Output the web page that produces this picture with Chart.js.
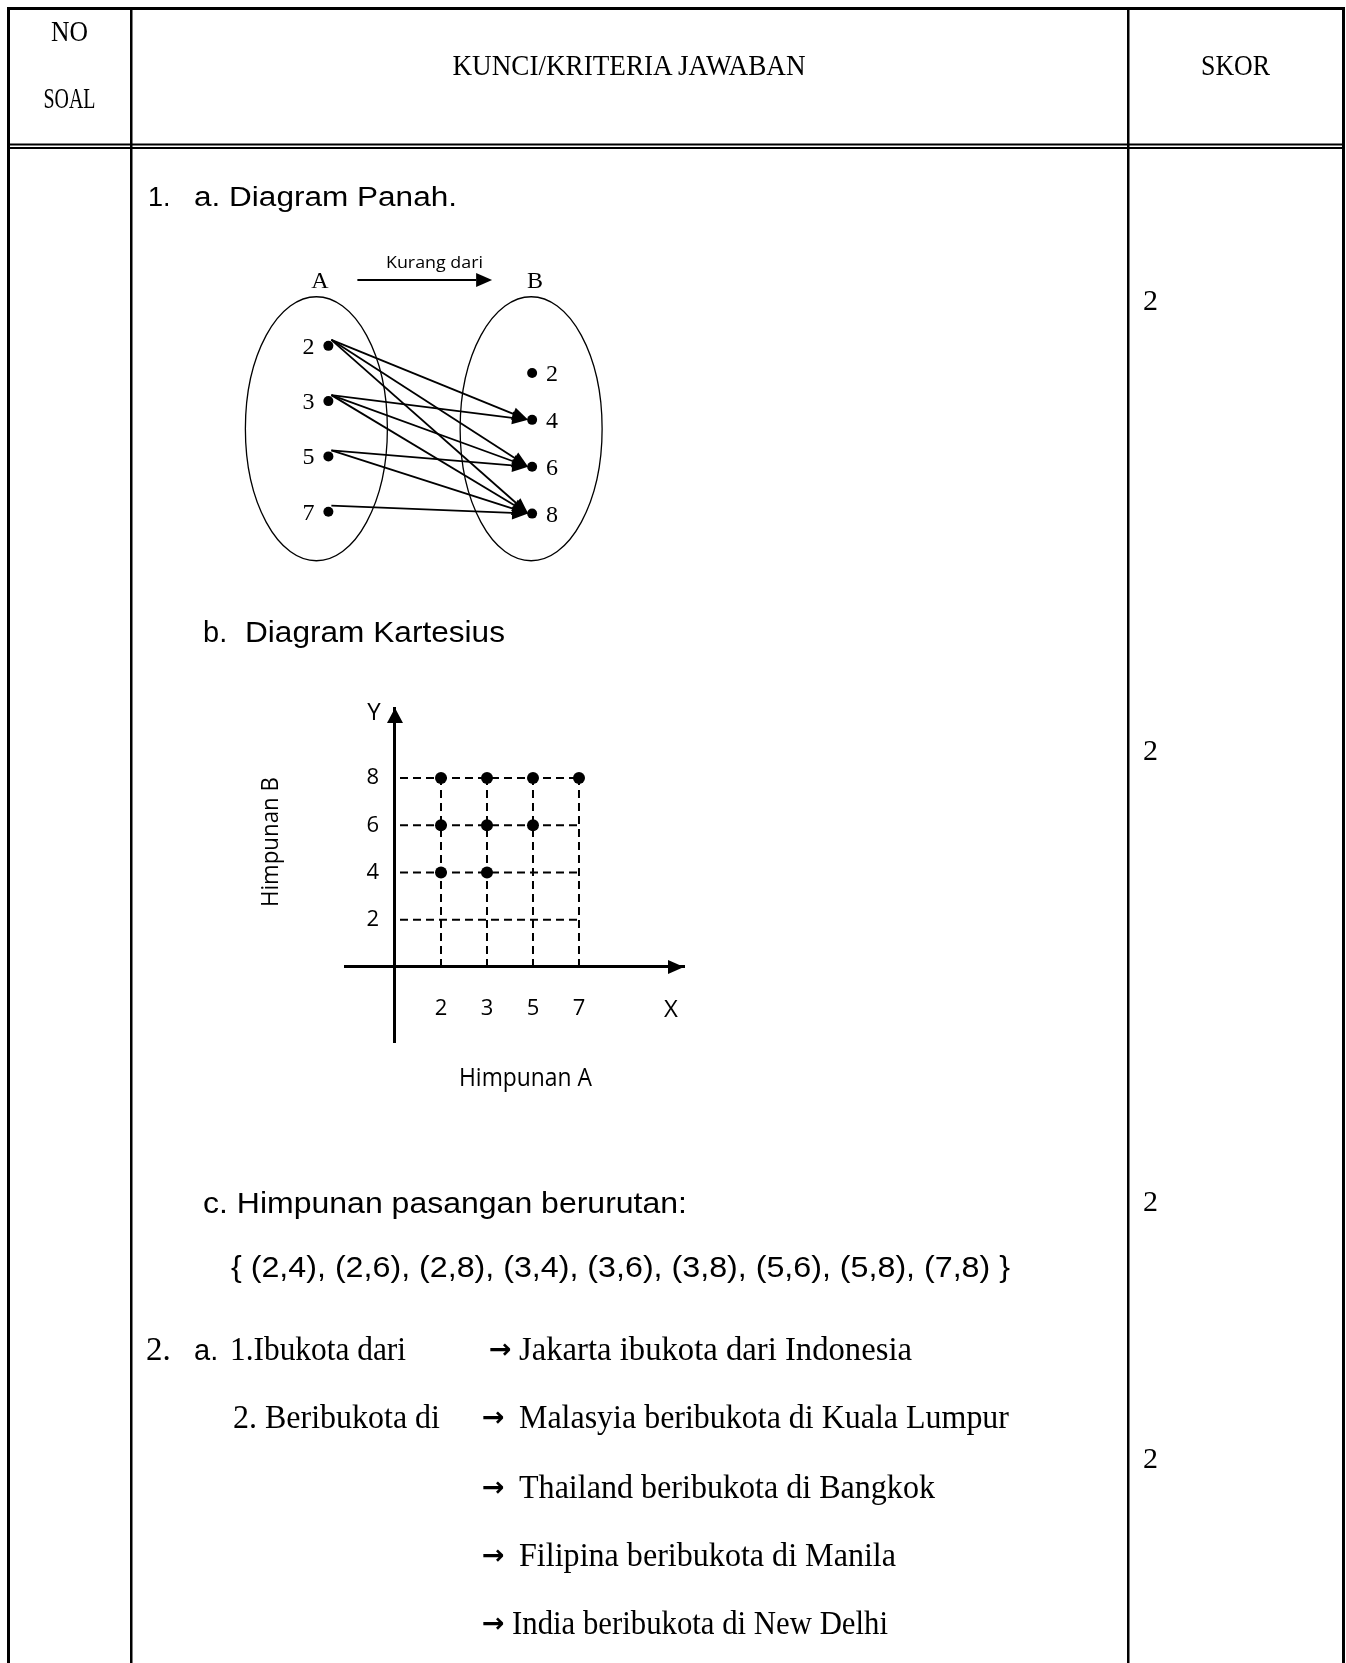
<!DOCTYPE html>
<html>
<head>
<meta charset="utf-8">
<script src="https://cdn.jsdelivr.net/npm/chart.js@4/dist/chart.umd.min.js"></script>
<style>
html,body{margin:0;padding:0;background:#fff;}
#page{position:relative;width:1346px;height:1663px;overflow:hidden;background:#fff;}
canvas{position:absolute;}
#arrowChart{left:222px;top:240px;width:397px;height:330px;}
#cartChart{left:315px;top:678px;width:399px;height:394px;}
svg{position:absolute;left:0;top:0;}
.serif{font-family:"Liberation Serif","Times New Roman",serif;}
.sans{font-family:"Liberation Sans",Arial,sans-serif;}
.open{font-family:"Open Sans","Liberation Sans",sans-serif;}
.arr{font-family:"DejaVu Sans",sans-serif;font-weight:bold;}
</style>
</head>
<body>
<div id="page">
<canvas id="arrowChart" width="397" height="330"></canvas>
<canvas id="cartChart" width="399" height="394"></canvas>
<svg id="sheet" width="1346" height="1663" viewBox="0 0 1346 1663" xmlns="http://www.w3.org/2000/svg">
  <!-- table lines -->
  <g fill="#000">
    <rect x="7" y="7" width="1338" height="3"/>
    <rect x="7" y="7" width="3" height="1656"/>
    <rect x="1342" y="7" width="3" height="1656"/>
    <rect x="130" y="7" width="2.5" height="1656"/>
    <rect x="1127" y="7" width="2.5" height="1656"/>
    <rect x="7" y="143.5" width="1338" height="2"/>
    <rect x="7" y="147" width="1338" height="2"/>
  </g>
  <!-- header -->
  <g class="serif" font-size="30" fill="#000">
    <text x="69.5" y="41" text-anchor="middle" textLength="37" lengthAdjust="spacingAndGlyphs">NO</text>
    <text x="69.5" y="108" text-anchor="middle" textLength="52" lengthAdjust="spacingAndGlyphs">SOAL</text>
    <text x="629" y="75" text-anchor="middle" textLength="353" lengthAdjust="spacingAndGlyphs">KUNCI/KRITERIA JAWABAN</text>
    <text x="1235.5" y="75" text-anchor="middle" textLength="69" lengthAdjust="spacingAndGlyphs">SKOR</text>
  </g>
  <!-- skor values -->
  <g class="serif" font-size="30" fill="#000">
    <text x="1143" y="310">2</text>
    <text x="1143" y="760">2</text>
    <text x="1143" y="1211">2</text>
    <text x="1143" y="1468">2</text>
  </g>
  <!-- section 1 headings -->
  <g class="sans" fill="#000">
    <text x="148" y="206" font-size="27">1.</text>
    <text x="194" y="206" font-size="27" textLength="263" lengthAdjust="spacingAndGlyphs">a. Diagram Panah.</text>
    <text x="203" y="642" font-size="29">b.</text>
    <text x="245" y="642" font-size="29" textLength="260" lengthAdjust="spacingAndGlyphs">Diagram Kartesius</text>
    <text x="203" y="1213" font-size="29" textLength="484" lengthAdjust="spacingAndGlyphs">c. Himpunan pasangan berurutan:</text>
    <text id="pairText" x="231" y="1277" font-size="29" textLength="779" lengthAdjust="spacingAndGlyphs"></text>
  </g>
  <!-- arrow diagram texts -->
  <g fill="#000">
    <text class="serif" x="320" y="288" font-size="24" text-anchor="middle">A</text>
    <text class="serif" x="535" y="288" font-size="24" text-anchor="middle">B</text>
    <text id="relText" class="open" x="386" y="268" font-size="17" textLength="97" lengthAdjust="spacingAndGlyphs"></text>
  </g>
  <!-- cartesian texts -->
  <g class="open" fill="#000">
    <text x="374" y="720" font-size="24" text-anchor="middle">Y</text>
    <text x="671" y="1017" font-size="24" text-anchor="middle">X</text>
    <text x="278" y="842" font-size="23" text-anchor="middle" transform="rotate(-90 278 842)" textLength="130" lengthAdjust="spacingAndGlyphs">Himpunan B</text>
    <text x="459" y="1086" font-size="25" textLength="133" lengthAdjust="spacingAndGlyphs">Himpunan A</text>
  </g>
  <!-- section 2 -->
  <g class="serif" font-size="33" fill="#000">
    <text x="146" y="1360">2.</text>
    <text class="sans" x="194" y="1360" font-size="29">a.</text>
    <text x="230" y="1360" textLength="176" lengthAdjust="spacingAndGlyphs">1.Ibukota dari</text>
    <text class="arr" x="489" y="1358" font-size="27">→</text>
    <text x="519" y="1360" textLength="393" lengthAdjust="spacingAndGlyphs">Jakarta ibukota dari Indonesia</text>

    <text x="233" y="1428" textLength="207" lengthAdjust="spacingAndGlyphs">2. Beribukota di</text>
    <text class="arr" x="482" y="1426" font-size="27">→</text>
    <text x="519" y="1428" textLength="490" lengthAdjust="spacingAndGlyphs">Malasyia beribukota di Kuala Lumpur</text>

    <text class="arr" x="482" y="1496" font-size="27">→</text>
    <text x="519" y="1498" textLength="416" lengthAdjust="spacingAndGlyphs">Thailand beribukota di Bangkok</text>

    <text class="arr" x="482" y="1564" font-size="27">→</text>
    <text x="519" y="1566" textLength="377" lengthAdjust="spacingAndGlyphs">Filipina beribukota di Manila</text>

    <text class="arr" x="482" y="1632" font-size="27">→</text>
    <text x="512" y="1634" textLength="376" lengthAdjust="spacingAndGlyphs">India beribukota di New Delhi</text>
  </g>
</svg>
</div>
<script>
// ---------- data ----------
const setA = [2, 3, 5, 7];              // Himpunan A
const setB = [2, 4, 6, 8];              // Himpunan B
const pairA = [2, 2, 2, 3, 3, 3, 5, 5, 7]; // relation "kurang dari": first elements
const pairB = [4, 6, 8, 4, 6, 8, 6, 8, 8]; // relation "kurang dari": second elements
const relationName = 'Kurang dari';

// text built from data
document.getElementById('pairText').textContent =
  '{ ' + pairA.map((a, k) => '(' + a + ',' + pairB[k] + ')').join(', ') + ' }';
document.getElementById('relText').textContent = relationName;

function drawArrow(ctx, x1, y1, x2, y2, len, half) {
  const ang = Math.atan2(y2 - y1, x2 - x1);
  const bx = x2 - len * Math.cos(ang), by = y2 - len * Math.sin(ang);
  ctx.beginPath();
  ctx.moveTo(x1, y1);
  ctx.lineTo(bx, by);
  ctx.stroke();
  ctx.beginPath();
  ctx.moveTo(x2, y2);
  ctx.lineTo(bx + half * Math.sin(ang), by - half * Math.cos(ang));
  ctx.lineTo(bx - half * Math.sin(ang), by + half * Math.cos(ang));
  ctx.closePath();
  ctx.fill();
}

// ---------- arrow (panah) diagram ----------
const arrowPlugin = {
  id: 'arrowDiagram',
  beforeDatasetsDraw(chart) {
    const { ctx, chartArea, scales: { x, yA } } = chart;
    const cy = (yA.getPixelForValue(0) + yA.getPixelForValue(setA.length - 1)) / 2;
    ctx.save();
    ctx.strokeStyle = '#000';
    ctx.lineWidth = 1.3;
    ctx.beginPath();
    ctx.ellipse(x.getPixelForValue(0) - 12, cy, 71, 132, 0, 0, Math.PI * 2);
    ctx.stroke();
    ctx.beginPath();
    ctx.ellipse(x.getPixelForValue(1) - 1, cy, 71, 132, 0, 0, Math.PI * 2);
    ctx.stroke();
    // relation arrow on top
    ctx.fillStyle = '#000';
    ctx.lineWidth = 2;
    drawArrow(ctx, x.getPixelForValue(0) + 29, chartArea.top + 35, x.getPixelForValue(1) - 40, chartArea.top + 35, 16, 7);
    ctx.restore();
  },
  afterDatasetsDraw(chart) {
    const { ctx, scales: { x, yA, yB } } = chart;
    ctx.save();
    ctx.fillStyle = '#000';
    ctx.strokeStyle = '#000';
    ctx.lineWidth = 1.8;
    pairA.forEach((a, k) => {
      const i = setA.indexOf(a), j = setB.indexOf(pairB[k]);
      drawArrow(ctx,
        x.getPixelForValue(0) + 3, yA.getPixelForValue(i) - 6,
        x.getPixelForValue(1) - 4, yB.getPixelForValue(j),
        16, 6.5);
    });
    ctx.font = '24px "Liberation Serif", serif';
    ctx.textBaseline = 'alphabetic';
    ctx.textAlign = 'right';
    setA.forEach((a, i) => ctx.fillText(String(a), x.getPixelForValue(0) - 14, yA.getPixelForValue(i) + 8));
    ctx.textAlign = 'left';
    setB.forEach((b, j) => ctx.fillText(String(b), x.getPixelForValue(1) + 14, yB.getPixelForValue(j) + 8));
    ctx.restore();
  }
};

new Chart(document.getElementById('arrowChart'), {
  type: 'scatter',
  data: {
    datasets: [
      { data: setA.map((a, i) => ({ x: 0, y: i })), yAxisID: 'yA', pointRadius: 5, pointBackgroundColor: '#000', pointBorderWidth: 0 },
      { data: setB.map((b, j) => ({ x: 1, y: j })), yAxisID: 'yB', pointRadius: 5, pointBackgroundColor: '#000', pointBorderWidth: 0 }
    ]
  },
  options: {
    responsive: false, animation: false, events: [],
    layout: { padding: 0 },
    plugins: { legend: { display: false }, tooltip: { enabled: false } },
    scales: {
      x: { type: 'linear', display: false, min: -0.4976, max: 1.4019 },
      yA: { type: 'linear', display: false, reverse: true, min: -1.8246, max: 3.9649 },
      yB: { type: 'linear', display: false, reverse: true, min: -2.731, max: 4.0966 }
    }
  },
  plugins: [arrowPlugin]
});

// ---------- cartesian diagram ----------
const cartPlugin = {
  id: 'cartGrid',
  beforeDatasetsDraw(chart) {
    const { ctx, scales: { x, y } } = chart;
    const xEnd = x.getPixelForValue(setA.length);
    const yTop = y.getPixelForValue(setB[setB.length - 1]);
    const y0 = y.getPixelForValue(0);
    const x0 = x.getPixelForValue(0);
    ctx.save();
    ctx.strokeStyle = '#000';
    ctx.lineWidth = 2;
    ctx.setLineDash([8, 5]);
    setB.forEach(b => {
      const py = y.getPixelForValue(b);
      ctx.beginPath(); ctx.moveTo(x0 + 5, py); ctx.lineTo(xEnd, py); ctx.stroke();
    });
    setA.forEach((a, i) => {
      const px = x.getPixelForValue(i + 1);
      ctx.beginPath(); ctx.moveTo(px, y0); ctx.lineTo(px, yTop); ctx.stroke();
    });
    ctx.restore();
  },
  afterDraw(chart) {
    const { ctx, chartArea, scales: { x, y } } = chart;
    const x0 = x.getPixelForValue(0), y0 = y.getPixelForValue(0);
    ctx.save();
    ctx.fillStyle = '#000';
    ctx.beginPath();
    ctx.moveTo(x0, chartArea.top);
    ctx.lineTo(x0 - 8, chartArea.top + 15);
    ctx.lineTo(x0 + 8, chartArea.top + 15);
    ctx.closePath(); ctx.fill();
    ctx.beginPath();
    ctx.moveTo(chartArea.right, y0);
    ctx.lineTo(chartArea.right - 16, y0 - 7);
    ctx.lineTo(chartArea.right - 16, y0 + 7);
    ctx.closePath(); ctx.fill();
    // y tick labels, left of the y axis, from the scale's ticks
    ctx.font = '22px "Open Sans", sans-serif';
    ctx.textAlign = 'right';
    ctx.textBaseline = 'middle';
    y.ticks.forEach(t => ctx.fillText(String(t.value), x0 - 16, y.getPixelForValue(t.value)));
    ctx.restore();
  }
};

new Chart(document.getElementById('cartChart'), {
  type: 'scatter',
  data: {
    datasets: [{
      data: pairA.map((a, k) => ({ x: setA.indexOf(a) + 1, y: pairB[k] })),
      pointRadius: 6, pointBackgroundColor: '#000', pointBorderWidth: 0
    }]
  },
  options: {
    responsive: false, animation: false, events: [],
    layout: { padding: 30 },
    plugins: { legend: { display: false }, tooltip: { enabled: false } },
    scales: {
      x: {
        type: 'linear', position: { y: 0 }, min: -1.087, max: 6.283,
        afterBuildTicks: s => { s.ticks = setA.map((_, i) => ({ value: i + 1 })); },
        ticks: { callback: v => String(setA[v - 1]), font: { family: 'Open Sans', size: 22 }, color: '#000', padding: 29, maxRotation: 0, autoSkip: false },
        grid: { display: false, drawTicks: false },
        border: { display: true, color: '#000', width: 3 }
      },
      y: {
        type: 'linear', position: { x: 0 }, min: -3.175, max: 10.963,
        afterBuildTicks: s => { s.ticks = setB.map(v => ({ value: v })); },
        ticks: { display: false },
        grid: { display: false, drawTicks: false },
        border: { display: true, color: '#000', width: 3 }
      }
    }
  },
  plugins: [cartPlugin]
});
</script>
</body>
</html>
